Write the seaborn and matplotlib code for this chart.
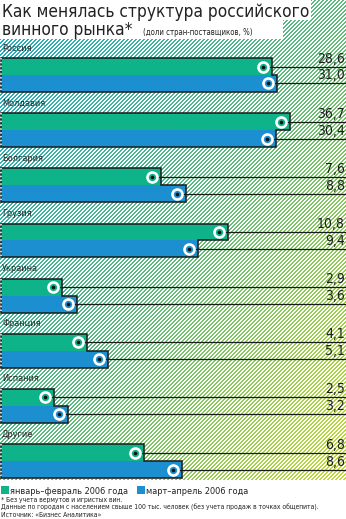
import numpy as np
import pandas as pd
import matplotlib
matplotlib.use("Agg")
import matplotlib.pyplot as plt
import matplotlib.transforms as mtransforms
from matplotlib.patches import Rectangle, Polygon
import seaborn as sns

# ---- data -------------------------------------------------------------
countries = ["Россия", "Молдавия", "Болгария", "Грузия",
             "Украина", "Франция", "Испания", "Другие"]
periods = ["январь–февраль 2006 года", "март–апрель 2006 года"]
share_jan_feb = [28.6, 36.7, 7.6, 10.8, 2.9, 4.1, 2.5, 6.8]
share_mar_apr = [31.0, 30.4, 8.8, 9.4, 3.6, 5.1, 3.2, 8.6]

title_line1 = "Как менялась структура российского"
title_line2 = "винного рынка*"
subtitle = "(доли стран-поставщиков, %)"
footnotes = [
    "* Без учета вермутов и игристых вин.",
    "Данные по городам с населением свыше 100 тыс. человек (без учета продаж в точках общепита).",
    "Источник: «Бизнес Аналитика»",
]

GREEN = "#0fb38a"
BLUE = "#1b8fd0"
W, H, DPI = 346, 519, 100

sns.set_theme(style="white")
FAMILY = ["DejaVu Sans"]
plt.rcParams["font.family"] = FAMILY
plt.rcParams["font.stretch"] = "condensed"

df = pd.DataFrame({
    "country": countries * 2,
    "period": [periods[0]] * len(countries) + [periods[1]] * len(countries),
    "share": share_jan_feb + share_mar_apr,
})

fig = plt.figure(figsize=(W / DPI, H / DPI), dpi=DPI)

# ---- hatched gradient backdrop ---------------------------------------
rows, cols = np.mgrid[0:H, 0:W]
t = 0.5 * (cols / W) + 0.5 * (rows / H)
stops = np.array([[28, 174, 198], [96, 186, 126], [206, 222, 44]], float) / 255
pos = np.array([0.0, 0.5, 1.0])
img = np.stack([np.interp(t, pos, stops[:, k]) for k in range(3)], axis=-1)
stripe = ((rows + cols) % 4) < 2
img[stripe] = 1.0
fig.figimage(img, xo=0, yo=0, origin="upper", zorder=-5)

# ---- axes spanning the whole canvas -----------------------------------
ax = fig.add_axes([0, 0, 1, 1])
ax.patch.set_alpha(0)
ax.set_zorder(2)

sns.barplot(data=df, y="country", x="share", hue="period", orient="h",
            palette=[GREEN, BLUE], width=0.615, dodge=True, saturation=1,
            legend=False, linewidth=0, ax=ax)

# broken linear scale: full resolution up to BREAK, compressed beyond
BREAK, SQUEEZE = 11.0, 0.107


def fwd(v):
    v = np.asarray(v, float)
    return np.where(v <= BREAK, v, BREAK + (v - BREAK) * SQUEEZE)


def inv(u):
    u = np.asarray(u, float)
    return np.where(u <= BREAK, u, BREAK + (u - BREAK) / SQUEEZE)


ax.set_xscale("function", functions=(fwd, inv))
px_per_unit = 21.0
ax.set_xlim(float(inv(-1.0 / px_per_unit)), float(inv((W - 1.0) / px_per_unit)))
ax.set_ylim(8.05, -1.36)
ax.set_axis_off()

# ---- outlines, markers, leaders and labels ------------------------------
top_bars = list(ax.containers[0])
bot_bars = list(ax.containers[1])
mark_tr = mtransforms.offset_copy(ax.transData, fig=fig, x=-9, y=0, units="dots")
right_tr = mtransforms.blended_transform_factory(ax.transAxes, ax.transData)
label_tr = mtransforms.offset_copy(right_tr, fig=fig, x=-1, y=1, units="dots")
name_tr = mtransforms.offset_copy(right_tr, fig=fig, x=0, y=10, units="dots")
xfar = ax.get_xlim()[1] * 2

for name, gb, bb in zip(countries, top_bars, bot_bars):
    g_top, g_h, g_w = gb.get_y(), gb.get_height(), gb.get_width()
    b_top, b_h, b_w = bb.get_y(), bb.get_height(), bb.get_width()
    mid = g_top + g_h
    outline = [(0, g_top), (g_w, g_top), (g_w, mid), (b_w, mid),
               (b_w, b_top + b_h), (0, b_top + b_h)]
    ax.add_patch(Polygon(outline, closed=True, fill=False, edgecolor="#1a1a1a",
                         linewidth=1.1, zorder=3))
    ax.plot([0, 0], [g_top, b_top + b_h], color="white", lw=1.1,
            ls=(0, (1, 1.5)), zorder=4)

    for bar, col in ((gb, GREEN), (bb, BLUE)):
        yc = bar.get_y() + bar.get_height() / 2
        val = bar.get_width()
        ax.plot([val, xfar], [yc, yc], color="#1a1a1a", lw=0.9,
                transform=mark_tr, zorder=4, solid_capstyle="butt")
        ax.plot([val], [yc], marker="o", ms=7.2, mfc=col, mec="white",
                mew=1.9, transform=mark_tr, zorder=5)
        ax.plot([val], [yc], marker="o", ms=2.6, mfc="#111111", mec="none",
                transform=mark_tr, zorder=6)
        ax.text(1.0, yc, f"{val:.1f}".replace(".", ","), transform=label_tr,
                ha="right", va="bottom", fontsize=10, color="#1e1e1e",
                zorder=6)

    ax.text(0.006, g_top, name, transform=name_tr, ha="left", va="center",
            fontsize=6.6, color="#2a2a2a", zorder=6)


# ---- title block ----------------------------------------------------------
def fx(x):
    return x / W


def fy(y):
    return 1 - y / H


fig.patches.append(Rectangle((0, fy(20)), fx(311), 20 / H, transform=fig.transFigure,
                             facecolor="white", edgecolor="none", zorder=1))
fig.patches.append(Rectangle((0, fy(39)), fx(283), 19 / H, transform=fig.transFigure,
                             facecolor="white", edgecolor="none", zorder=1))
fig.text(fx(2), fy(17), title_line1, fontsize=12.4, color="#222222",
         ha="left", va="baseline", zorder=3)
fig.text(fx(2), fy(35), title_line2, fontsize=12.4, color="#222222",
         ha="left", va="baseline", zorder=3)
fig.text(fx(143), fy(35), subtitle, fontsize=5.6, color="#222222",
         ha="left", va="baseline", zorder=3)

# ---- legend and notes -------------------------------------------------------
fig.patches.append(Rectangle((0, 0), 1, fy(480), transform=fig.transFigure,
                             facecolor="white", edgecolor="none", zorder=1))
for x0, lab, col in ((1, periods[0], GREEN), (137, periods[1], BLUE)):
    fig.patches.append(Rectangle((fx(x0), fy(494)), fx(8), 8 / H,
                                 transform=fig.transFigure, facecolor=col,
                                 edgecolor="none", zorder=2))
    fig.text(fx(x0 + 9), fy(494), lab, fontsize=6.6, color="#222222",
             ha="left", va="baseline", zorder=3)
for i, line in enumerate(footnotes):
    fig.text(fx(1), fy(502 + 7.5 * i), line, fontsize=4.9, color="#222222",
             ha="left", va="baseline", zorder=3)

fig.savefig("out.png", dpi=DPI)
